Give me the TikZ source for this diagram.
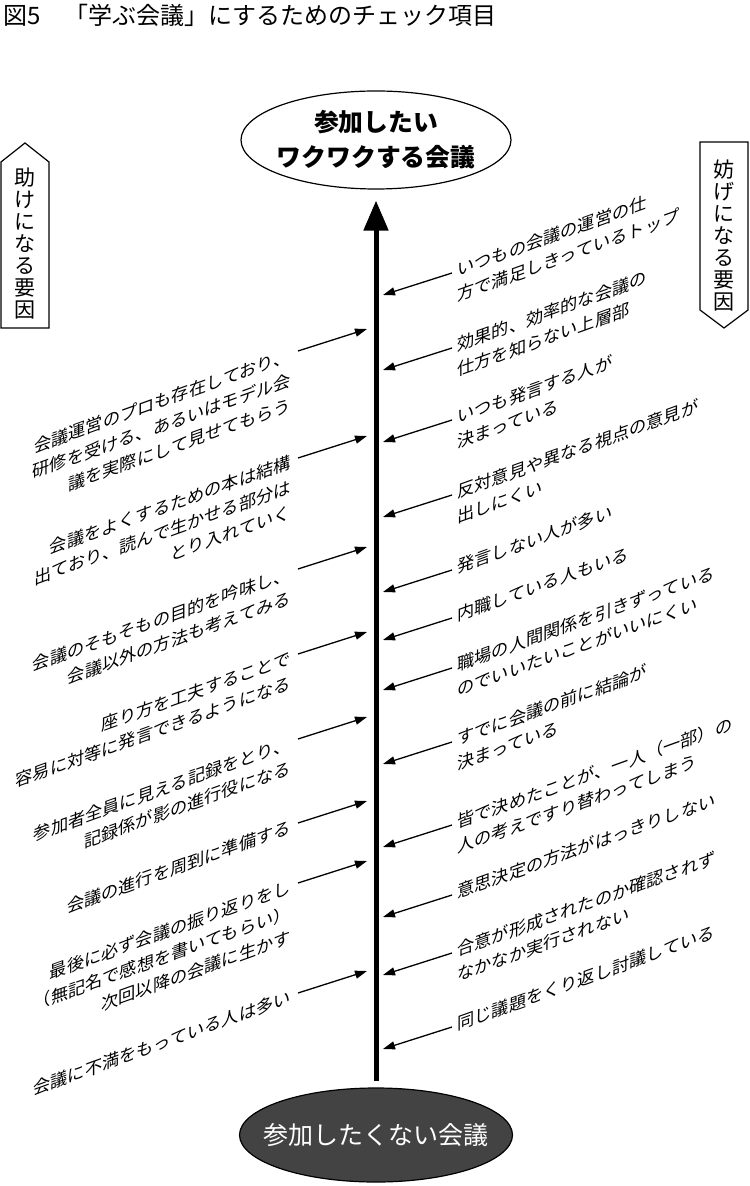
\documentclass[tikz,border=0pt]{standalone}
\usepackage{fontspec}
\usepackage{xcolor}
\usepackage{tikz}
\usetikzlibrary{arrows.meta,shapes.geometric}
\setmainfont{Noto Sans CJK JP}
\definecolor{darkoval}{HTML}{434343}

\begin{document}
\begin{tikzpicture}[x=0.5pt,y=-0.5pt,
    lbl/.style={font=\fontsize{8.6pt}{12.5pt}\selectfont,inner sep=0pt,yslant=0.36},
    aid/.style={lbl,align=right,anchor=north east},
    bar/.style={lbl,align=left,anchor=north west},
    small/.style={line width=0.65pt,-{Triangle[length=6pt,width=4pt]}},
    side/.style={font=\fontsize{10.5pt}{11pt}\selectfont,align=center,inner sep=0pt}]
  \useasboundingbox (0,0) rectangle (749,1186);
  \node[anchor=west,inner sep=0pt,font=\fontsize{12pt}{13pt}\selectfont] (title) at (3,15) {図5　「学ぶ会議」にするためのチェック項目};
  \node[ellipse,draw,line width=0.6pt,minimum width=135pt,minimum height=49pt,inner sep=0pt,inner xsep=-2.3pt,align=center,
        font=\bfseries\fontsize{12.4pt}{17.5pt}\selectfont] (want) at (376,140) {参加したい\\ワクワクする会議};
  \node[ellipse,draw,line width=0.6pt,fill=darkoval,text=white,minimum width=136pt,minimum height=47pt,inner sep=0pt,inner xsep=-8pt,
        font=\fontsize{12.5pt}{15pt}\selectfont] (unwant) at (376,1135) {参加したくない会議};
  \draw[line width=2.5pt,-{Triangle[length=15pt,width=12pt]},shorten <=3pt,shorten >=5.5pt] (unwant.north) -- (want.south);
  \node[side] (aidlbl) at (25,244) {助\\け\\に\\な\\る\\要\\因};
  \draw[line width=0.6pt] (1,328) -- (1,162) -- (25,143) -- (49,162) -- (49,328) -- cycle;
  \node[side] (barlbl) at (724,236) {妨\\げ\\に\\な\\る\\要\\因};
  \draw[line width=0.6pt] (700,142) -- (748,142) -- (748,310) -- (724,328) -- (700,310) -- cycle;
  \foreach \ys/\txt [count=\i] in {
      351/{会議運営のプロも存在しており、\\研修を受ける、あるいはモデル会\\議を実際にして見せてもらう},
      458/{会議をよくするための本は結構\\出ており、読んで生かせる部分は\\とり入れていく},
      569/{会議のそもそもの目的を吟味し、\\会議以外の方法も考えてみる},
      654/{座り方を工夫することで\\容易に対等に発言できるようになる},
      739/{参加者全員に見える記録をとり、\\記録係が影の進行役になる},
      823/{会議の進行を周到に準備する},
      883/{最後に必ず会議の振り返りをし\\（無記名で感想を書いてもらい）\\次回以降の会議に生かす},
      993/{会議に不満をもっている人は多い}} {
    \coordinate (aidend\i) at (367,\ys-22);
    \node[aid] (aid\i) at (291,\ys-5) {\txt};
    \draw[small] ([shift={(7,5)}]aid\i.north east) -- (aidend\i);
  }
  \foreach \ys/\txt [count=\i] in {
      273/{いつもの会議の運営の仕\\方で満足しきっているトップ},
      348/{効果的、効率的な会議の\\仕方を知らない上層部},
      420/{いつも発言する人が\\決まっている},
      495/{反対意見や異なる視点の意見が\\出しにくい},
      570/{発言しない人が多い},
      618/{内職している人もいる},
      668/{職場の人間関係を引きずっている\\のでいいたいことがいいにくい},
      742/{すでに会議の前に結論が\\決まっている},
      825/{皆で決めたことが、一人（一部）の\\人の考えですり替わってしまう},
      895/{意思決定の方法がはっきりしない},
      953/{合意が形成されたのか確認されず\\なかなか実行されない},
      1027/{同じ議題をくり返し討議している}} {
    \coordinate (barend\i) at (383,\ys+22);
    \node[bar] (bar\i) at (457,\ys-11) {\txt};
    \draw[small] ([shift={(-5,11)}]bar\i.north west) -- (barend\i);
  }
\end{tikzpicture}
\end{document}
